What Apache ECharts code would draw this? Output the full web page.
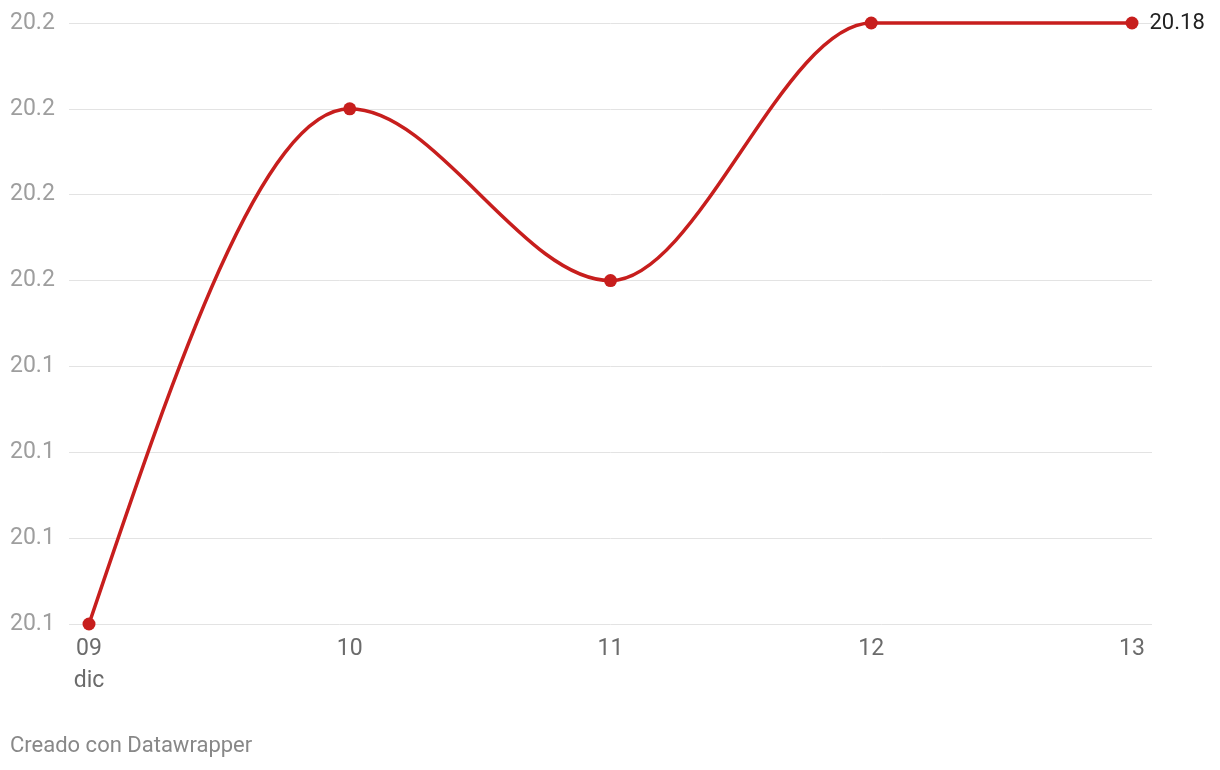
<!DOCTYPE html>
<html>
<head>
<meta charset="utf-8">
<script src="https://cdn.jsdelivr.net/npm/echarts@6/dist/echarts.min.js"></script>
<style>
  html, body { margin: 0; padding: 0; background: #ffffff; }
  #chart { width: 1220px; height: 770px; }
</style>
</head>
<body>
<div id="chart"></div>
<script>
// ---- data ----
const categories = ['09', '10', '11', '12', '13'];
const monthLabel = 'dic';
const values = [20.11, 20.17, 20.15, 20.18, 20.18];
const yTicks = [20.11, 20.12, 20.13, 20.14, 20.15, 20.16, 20.17, 20.18];
const yTickLabels = ['20.1', '20.1', '20.1', '20.1', '20.2', '20.2', '20.2', '20.2'];
const footerText = 'Creado con Datawrapper';

const RED = '#c71e1d';
const FONT = 'Roboto, "Noto Sans", sans-serif';

// monotone-x (d3 style) tangents in pixel space
function sign(v) { return v < 0 ? -1 : 1; }
function monotoneTangents(pts) {
  const n = pts.length;
  const t = new Array(n).fill(0);
  for (let i = 1; i < n - 1; i++) {
    const h0 = pts[i][0] - pts[i - 1][0], h1 = pts[i + 1][0] - pts[i][0];
    const s0 = (pts[i][1] - pts[i - 1][1]) / h0, s1 = (pts[i + 1][1] - pts[i][1]) / h1;
    const p = (s0 * h1 + s1 * h0) / (h0 + h1);
    t[i] = (sign(s0) + sign(s1)) * Math.min(Math.abs(s0), Math.abs(s1), 0.5 * Math.abs(p)) || 0;
  }
  if (n > 2) {
    const h = pts[1][0] - pts[0][0];
    t[0] = (3 * (pts[1][1] - pts[0][1]) / h - t[1]) / 2;
    const h2 = pts[n - 1][0] - pts[n - 2][0];
    t[n - 1] = (3 * (pts[n - 1][1] - pts[n - 2][1]) / h2 - t[n - 2]) / 2;
  } else if (n === 2) {
    const s = (pts[1][1] - pts[0][1]) / (pts[1][0] - pts[0][0]);
    t[0] = s; t[1] = s;
  }
  return t;
}

const seriesData = values.map((v, i) => [i, v]);
const pad = 0.0767; // horizontal padding in category units

const chart = echarts.init(document.getElementById('chart'), null, { renderer: 'canvas' });
chart.setOption({
  backgroundColor: '#ffffff',
  animation: false,
  grid: { left: 69, right: 68, top: 23, bottom: 146 },
  xAxis: {
    type: 'value',
    min: -pad,
    max: categories.length - 1 + pad,
    axisLine: { show: false },
    axisTick: { show: false },
    splitLine: { show: false },
    axisLabel: {
      customValues: categories.map((c, i) => i),
      formatter: function (v) {
        const i = Math.round(v);
        return i === 0 ? categories[i] + '\n' + monthLabel : categories[i];
      },
      color: '#6b6b6b',
      fontFamily: FONT,
      fontSize: 23,
      lineHeight: 32,
      margin: 9,
      verticalAlign: 'top'
    }
  },
  yAxis: {
    type: 'value',
    min: yTicks[0],
    max: yTicks[yTicks.length - 1],
    interval: 0.01,
    axisLine: { show: false },
    axisTick: { show: false },
    splitLine: { show: true, lineStyle: { color: '#e3e3e3', width: 1 } },
    axisLabel: {
      formatter: function (v) {
        let best = 0, d = Infinity;
        yTicks.forEach((t, i) => { const dd = Math.abs(t - v); if (dd < d) { d = dd; best = i; } });
        return yTickLabels[best];
      },
      align: 'left',
      margin: 59,
      color: '#9e9e9e',
      fontFamily: FONT,
      fontSize: 23
    }
  },
  graphic: [{
    type: 'text',
    left: 10,
    top: 735,
    style: { text: footerText, fill: '#888888', font: '22px ' + FONT }
  }],
  series: [
    {
      type: 'custom',
      data: seriesData,
      z: 2,
      silent: true,
      renderItem: function (params, api) {
        const i = params.dataIndex;
        if (i >= values.length - 1) return null;
        const pts = values.map((v, j) => api.coord([j, v]));
        const t = monotoneTangents(pts);
        const x0 = pts[i][0], y0 = pts[i][1], x1 = pts[i + 1][0], y1 = pts[i + 1][1];
        const dx = (x1 - x0) / 3;
        return {
          type: 'bezierCurve',
          shape: {
            x1: x0, y1: y0, x2: x1, y2: y1,
            cpx1: x0 + dx, cpy1: y0 + dx * t[i],
            cpx2: x1 - dx, cpy2: y1 - dx * t[i + 1]
          },
          style: { stroke: RED, lineWidth: 3.5, fill: 'none', lineCap: 'round', lineJoin: 'round' }
        };
      }
    },
    {
      type: 'line',
      data: seriesData.map((d, i) => i === seriesData.length - 1 ? {
        value: d,
        label: {
          show: true,
          position: 'right',
          distance: 11,
          formatter: function (p) { return p.value[1].toFixed(2); },
          color: '#222222',
          fontFamily: FONT,
          fontSize: 22
        }
      } : d),
      z: 3,
      symbol: 'circle',
      symbolSize: 13,
      showSymbol: true,
      lineStyle: { width: 0, opacity: 0 },
      itemStyle: { color: RED, borderWidth: 0 },
      silent: true
    }
  ]
});
</script>
</body>
</html>
